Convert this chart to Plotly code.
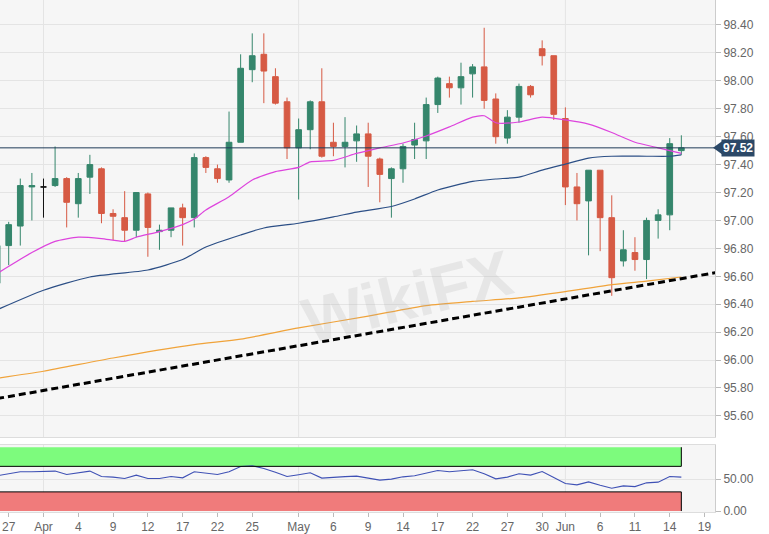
import pandas as pd
import plotly.graph_objects as go
from plotly.subplots import make_subplots

# daily bars, Mar 26 - Jun 17 2019 (weekdays only)
days = pd.bdate_range("2019-03-26", "2019-06-17")

open_ = [96.55, 96.82, 96.96, 97.24,
         97.24, 97.25, 97.30, 97.12, 97.31, 97.37, 97.05, 97.02, 96.93, 97.19, 96.92, 96.93,
         97.09, 97.02, 97.45, 97.37, 97.29, 97.56, 98.08, 98.19, 98.03, 97.85,
         97.52, 97.65, 97.85, 97.56, 97.53, 97.57, 97.62, 97.44, 97.30, 97.37, 97.54, 97.57,
         97.83, 97.98, 97.95, 98.05, 98.10, 97.87, 97.59, 97.74, 97.96, 98.23, 98.18,
         97.73, 97.24, 97.14, 97.36, 97.02, 96.71, 96.77, 96.72, 97.00, 97.04, 97.50]
high = [96.86, 96.99, 97.30, 97.34,
        97.30, 97.53, 97.31, 97.34, 97.47, 97.38, 97.08, 97.21, 97.20, 97.20, 96.97, 97.09,
        97.12, 97.48, 97.46, 97.40, 97.78, 98.19, 98.34, 98.34, 98.09, 97.88,
        97.73, 97.86, 98.09, 97.70, 97.74, 97.68, 97.70, 97.45, 97.38, 97.55, 97.70, 97.88,
        98.03, 98.03, 98.13, 98.12, 98.38, 97.91, 97.79, 97.98, 97.97, 98.29, 98.18,
        97.81, 97.34, 97.36, 97.36, 97.18, 96.93, 96.88, 97.02, 97.08, 97.59, 97.61]
low = [96.48, 96.68, 96.82, 97.00,
       97.02, 97.24, 96.95, 97.02, 97.19, 96.98, 96.86, 96.85, 96.88, 96.74, 96.79, 96.88,
       96.82, 96.95, 97.34, 97.27, 97.27, 97.56, 97.99, 97.84, 97.83, 97.44,
       97.15, 97.51, 97.45, 97.46, 97.38, 97.42, 97.24, 97.13, 97.02, 97.27, 97.44, 97.44,
       97.77, 97.88, 97.83, 97.88, 97.80, 97.55, 97.55, 97.70, 97.88, 98.11, 97.72,
       97.11, 97.00, 96.75, 96.78, 96.46, 96.67, 96.64, 96.58, 96.87, 96.93, 97.47]
close = [96.82, 96.97, 97.25, 97.25,
         97.24, 97.30, 97.13, 97.30, 97.40, 97.05, 97.03, 96.93, 97.20, 96.95, 96.93, 97.09,
         97.02, 97.45, 97.38, 97.30, 97.56, 98.09, 98.18, 98.07, 97.84, 97.52,
         97.65, 97.85, 97.46, 97.53, 97.56, 97.62, 97.46, 97.33, 97.37, 97.53, 97.58, 97.83,
         98.02, 97.95, 98.03, 98.10, 97.86, 97.60, 97.74, 97.96, 97.90, 98.18, 97.76,
         97.24, 97.12, 97.36, 97.02, 96.59, 96.79, 96.72, 97.00, 97.04, 97.55, 97.52]

rsi = [55.2, 58.4, 61.5, 61.5,
       61.5, 62.6, 57.3, 60.4, 62.6, 54.1, 53.2, 50.9, 56.3, 50.9, 50.9, 54.1,
       52.0, 61.5, 59.5, 57.3, 61.5, 69.9, 71.0, 66.7, 60.7, 54.1,
       56.8, 59.9, 51.6, 53.2, 53.9, 54.7, 51.6, 48.4, 50.0, 53.6, 55.2, 59.9,
       63.6, 61.5, 63.1, 64.7, 58.4, 50.5, 53.2, 58.4, 56.3, 62.0, 52.5,
       43.1, 41.0, 45.7, 40.5, 35.8, 39.4, 38.3, 44.2, 45.3, 54.1, 53.2]

# moving averages
ma_fast_days = ["2019-03-26", "2019-03-29", "2019-04-02", "2019-04-04", "2019-04-08", "2019-04-10",
                "2019-04-11", "2019-04-15", "2019-04-17", "2019-04-18", "2019-04-19", "2019-04-23",
                "2019-04-25", "2019-04-29", "2019-05-01", "2019-05-02", "2019-05-06", "2019-05-08",
                "2019-05-10", "2019-05-14", "2019-05-16", "2019-05-20", "2019-05-22", "2019-05-23",
                "2019-05-24", "2019-05-28", "2019-05-30", "2019-06-03", "2019-06-05", "2019-06-07",
                "2019-06-11", "2019-06-13", "2019-06-17"]
ma_fast = [96.62, 96.77, 96.85, 96.88, 96.87, 96.85,
           96.88, 96.92, 96.97, 97.01, 97.075, 97.17,
           97.29, 97.35, 97.38, 97.42, 97.43, 97.48,
           97.52, 97.555, 97.605, 97.67, 97.74, 97.75,
           97.70, 97.705, 97.74, 97.72, 97.69, 97.63,
           97.56, 97.52, 97.48]

ma_mid_days = ["2019-03-26", "2019-04-01", "2019-04-05", "2019-04-12", "2019-04-17", "2019-04-19",
               "2019-04-24", "2019-04-26", "2019-05-01", "2019-05-06", "2019-05-08", "2019-05-13",
               "2019-05-15", "2019-05-17", "2019-05-22", "2019-05-24", "2019-05-28", "2019-05-30",
               "2019-06-03", "2019-06-05", "2019-06-07", "2019-06-12", "2019-06-14", "2019-06-17"]
ma_mid = [96.36, 96.50, 96.595, 96.645, 96.72, 96.81,
          96.896, 96.946, 96.98, 97.025, 97.06, 97.10,
          97.154, 97.218, 97.28, 97.297, 97.31, 97.36,
          97.404, 97.447, 97.46, 97.46, 97.46, 97.47]

ma_slow_days = ["2019-03-26", "2019-04-01", "2019-04-09", "2019-04-18", "2019-04-24", "2019-05-01",
                "2019-05-09", "2019-05-16", "2019-05-22", "2019-05-28", "2019-06-03", "2019-06-07",
                "2019-06-12", "2019-06-17"]
ma_slow = [95.87, 95.92, 96.015, 96.11, 96.15, 96.23,
           96.315, 96.39, 96.42, 96.445, 96.49, 96.54,
           96.566, 96.595]

trend_days = ["2019-03-26", "2019-06-20"]
trend = [95.724, 96.627]

tick_days = ["2019-03-27", "2019-04-01", "2019-04-04", "2019-04-09", "2019-04-12", "2019-04-17",
             "2019-04-22", "2019-04-25", "2019-05-01", "2019-05-06", "2019-05-09", "2019-05-14",
             "2019-05-17", "2019-05-22", "2019-05-27", "2019-05-30", "2019-06-03", "2019-06-06",
             "2019-06-11", "2019-06-14", "2019-06-19"]
tick_text = ["27", "Apr", "4", "9", "12", "17", "22", "25", "May", "6", "9", "14",
             "17", "22", "27", "30", "Jun", "6", "11", "14", "19"]
month_starts = ["2019-04-01", "2019-05-01", "2019-06-03"]

RSI_HIGH, RSI_LOW, RSI_TOP = 70, 30, 100

GREEN = "#35866c"
RED = "#d65a44"
GRID = "#e4e4e4"
FONT = dict(family="Arial, Liberation Sans, sans-serif", size=12, color="#666")


def mid(d):
    # daily bars sit in the middle of their day
    return pd.to_datetime(pd.Index(d)) + pd.Timedelta(hours=12)


x = mid(days)
df = pd.DataFrame(dict(x=x, o=open_, h=high, l=low, c=close))

fig = make_subplots(rows=2, cols=1, shared_xaxes=True)

groups = [
    (df[df.c > df.o], GREEN),
    (df[df.c < df.o], RED),
    (df[df.c == df.o], "#111111"),
]
for g, col in groups:
    fig.add_trace(go.Candlestick(
        x=g.x, open=g.o, high=g.h, low=g.l, close=g.c,
        increasing=dict(line=dict(color=col, width=1), fillcolor=col),
        decreasing=dict(line=dict(color=col, width=1), fillcolor=col),
        whiskerwidth=0, hoverinfo="skip", showlegend=False
    ), row=1, col=1)

for d, v, col in [(ma_slow_days, ma_slow, "#f0a33a"),
                  (ma_mid_days, ma_mid, "#2c4f86"),
                  (ma_fast_days, ma_fast, "#dd44dd")]:
    fig.add_trace(go.Scatter(x=mid(d), y=v, mode="lines",
                             line=dict(color=col, width=1.2, shape="spline", smoothing=0.6),
                             hoverinfo="skip", showlegend=False), row=1, col=1)

fig.add_trace(go.Scatter(x=mid(trend_days), y=trend, mode="lines",
                         line=dict(color="black", width=3, dash="7px,4px"),
                         hoverinfo="skip", showlegend=False), row=1, col=1)

fig.add_trace(go.Scatter(x=x, y=rsi, mode="lines",
                         line=dict(color="#3f51b5", width=1.1),
                         hoverinfo="skip", showlegend=False), row=2, col=1)

# RSI zones
x_start = x[0] - pd.Timedelta(days=1)
x_end = x[-1]
fig.add_shape(type="rect", xref="x2", yref="y2", x0=x_start, x1=x_end, y0=RSI_HIGH, y1=RSI_TOP,
              fillcolor="#7dfb7d", line_width=0, layer="below")
fig.add_shape(type="rect", xref="x2", yref="y2", x0=x_start, x1=x_end, y0=0, y1=RSI_LOW,
              fillcolor="#f07b7b", line_width=0, layer="below")
for y0, y1 in [(RSI_HIGH, RSI_TOP), (0, RSI_LOW)]:
    fig.add_shape(type="line", xref="x2", yref="y2", x0=x_end, x1=x_end, y0=y0, y1=y1,
                  line=dict(color="black", width=1))
for yv in [RSI_HIGH, RSI_LOW]:
    fig.add_shape(type="line", xref="x2", yref="y2", x0=x_start, x1=x_end, y0=yv, y1=yv,
                  line=dict(color="black", width=1))

# month gridlines
for m in mid(month_starts):
    for xr, yr in [("x", "y domain"), ("x2", "y2 domain")]:
        fig.add_shape(type="line", xref=xr, yref=yr, x0=m, x1=m, y0=0, y1=1,
                      line=dict(color=GRID, width=1), layer="below")

# last price line + tag
last = close[-1]
fig.add_shape(type="line", xref="x domain", yref="y", x0=0, x1=1, y0=last, y1=last,
              line=dict(color="#1f3a57", width=1))
fig.add_shape(type="path", xref="paper", yref="y", xsizemode="pixel", ysizemode="pixel",
              xanchor=1, yanchor=last, path="M -2,0 L 7,6.5 L 7,-6.5 Z",
              fillcolor="#2b4867", line_width=0)
fig.add_annotation(xref="paper", yref="y", x=1, y=last, xanchor="left", xshift=6,
                   text="<b>%.2f</b>" % last, showarrow=False,
                   font=dict(family="Arial, Liberation Sans, sans-serif", size=12, color="white"),
                   bgcolor="#2b4867", borderpad=1)

# watermark
fig.add_annotation(xref="paper", yref="paper", x=0.57, y=0.42, text="<b>WikiFX</b>",
                   showarrow=False, textangle=-14,
                   font=dict(family="Arial, Liberation Sans, sans-serif", size=64,
                             color="rgba(170,170,170,0.2)"))

x_range = [pd.Timestamp("2019-03-26 18:00"), pd.Timestamp("2019-06-20 09:40")]
breaks = [dict(bounds=["sat", "mon"])]

fig.update_xaxes(range=x_range, rangebreaks=breaks, showgrid=False, zeroline=False,
                 rangeslider_visible=False)
fig.update_layout(
    width=769, height=534,
    margin=dict(l=0, r=54, t=0, b=22),
    paper_bgcolor="white", plot_bgcolor="#f6f6f6",
    font=FONT, showlegend=False,
    xaxis=dict(showticklabels=False, ticks="", showline=True, linecolor="#dddddd",
               rangeslider=dict(visible=False)),
    xaxis2=dict(tickmode="array", tickvals=mid(tick_days), ticktext=tick_text,
                ticks="outside", ticklen=4, tickcolor="#bbbbbb",
                showline=True, linecolor="#dddddd", mirror=True,
                tickfont=dict(size=12, color="#666")),
    yaxis=dict(domain=[0.1465, 1], range=[95.449, 98.579], side="right",
               dtick=0.2, tick0=0, tickformat=".2f", gridcolor=GRID, zeroline=False,
               ticks="outside", ticklen=5, tickcolor="#bbbbbb",
               showline=True, linecolor="#cccccc"),
    yaxis2=dict(domain=[0, 0.1309], range=[-1.5, 103.5], side="right",
                tickvals=[0, 50], ticktext=["0.00", "50.00"], gridcolor=GRID, zeroline=False,
                ticks="outside", ticklen=5, tickcolor="#bbbbbb",
                showline=True, linecolor="#cccccc"),
)

# page body has a default 8px margin; drop it so the figure sits at the corner
fig.write_html("out.html", config={"displayModeBar": False},
               post_script="document.body.style.margin='0';")
